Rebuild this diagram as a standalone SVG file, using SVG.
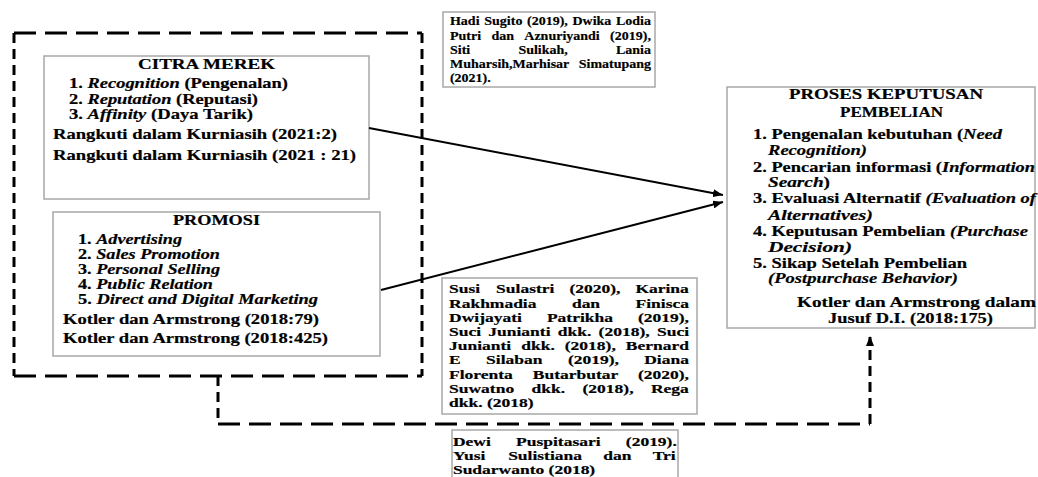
<svg xmlns="http://www.w3.org/2000/svg" width="1038" height="477" viewBox="0 0 1038 477">
<style>
text{font-family:"Liberation Serif","Times New Roman",serif;font-weight:bold;fill:#000;stroke:#000;stroke-width:0.2;}
.f14{font-size:15px;}
.f12{font-size:13.5px;}
.it{font-style:italic;}
.box{fill:#fff;stroke:#a8a8a8;stroke-width:1.5;}
.dh{fill:none;stroke:#000;stroke-width:3;stroke-dasharray:22 9;}
.dv{fill:none;stroke:#000;stroke-width:3;stroke-dasharray:10 6;}
.arr{fill:none;stroke:#000;stroke-width:2;}
</style>
<defs>
<marker id="ah" viewBox="0 0 10 8" refX="10" refY="4" markerWidth="10" markerHeight="8" markerUnits="userSpaceOnUse" orient="auto">
<path d="M0,0 L10,4 L0,8 Z" fill="#000"/>
</marker>
<marker id="ah2" viewBox="0 0 10 8" refX="9" refY="4" markerWidth="10" markerHeight="8" markerUnits="userSpaceOnUse" orient="auto">
<path d="M0,0 L10,4 L0,8 Z" fill="#000"/>
</marker>
</defs>
<rect width="1038" height="477" fill="#fff"/>

<g id="independent-group">
<path class="dh" d="M14,33 H422"/>
<path class="dh" d="M14,376 H422"/>
<path class="dv" d="M14,33 V376"/>
<path class="dv" d="M422,33 V376"/>
</g>

<g id="citra-merek">
<rect class="box" x="44" y="56" width="325" height="143"/>
<text class="f14" x="138" y="69" textLength="137" lengthAdjust="spacingAndGlyphs">CITRA MEREK</text>
<text class="f14" x="69" y="88" textLength="219" lengthAdjust="spacingAndGlyphs">1. <tspan class="it">Recognition</tspan> (Pengenalan)</text>
<text class="f14" x="69" y="104" textLength="189" lengthAdjust="spacingAndGlyphs">2. <tspan class="it">Reputation</tspan> (Reputasi)</text>
<text class="f14" x="69" y="119" textLength="184" lengthAdjust="spacingAndGlyphs">3. <tspan class="it">Affinity</tspan> (Daya Tarik)</text>
<text class="f14" x="53" y="139" textLength="284" lengthAdjust="spacingAndGlyphs">Rangkuti dalam Kurniasih (2021:2)</text>
<text class="f14" x="53" y="160" textLength="303" lengthAdjust="spacingAndGlyphs">Rangkuti dalam Kurniasih (2021 : 21)</text>
</g>

<g id="promosi">
<rect class="box" x="53" y="212" width="327" height="144"/>
<text class="f14" x="173" y="225" textLength="87" lengthAdjust="spacingAndGlyphs">PROMOSI</text>
<text class="f14" x="78" y="244" textLength="104" lengthAdjust="spacingAndGlyphs">1. <tspan class="it">Advertising</tspan></text>
<text class="f14" x="78" y="259" textLength="142" lengthAdjust="spacingAndGlyphs">2. <tspan class="it">Sales Promotion</tspan></text>
<text class="f14" x="78" y="274" textLength="142" lengthAdjust="spacingAndGlyphs">3. <tspan class="it">Personal Selling</tspan></text>
<text class="f14" x="78" y="289" textLength="135" lengthAdjust="spacingAndGlyphs">4. <tspan class="it">Public Relation</tspan></text>
<text class="f14" x="78" y="304" textLength="240" lengthAdjust="spacingAndGlyphs">5. <tspan class="it">Direct and Digital Marketing</tspan></text>
<text class="f14" x="63" y="324" textLength="256" lengthAdjust="spacingAndGlyphs">Kotler dan Armstrong (2018:79)</text>
<text class="f14" x="63" y="343" textLength="265" lengthAdjust="spacingAndGlyphs">Kotler dan Armstrong (2018:425)</text>
</g>

<g id="ref-top">
<rect class="box" x="443" y="12" width="212" height="75"/>
<g transform="scale(1.037,1)">
<text class="f12" y="25.5"><tspan x="433.9">Hadi</tspan><tspan x="467">Sugito</tspan><tspan x="508.2">(2019),</tspan><tspan x="552">Dwika</tspan><tspan x="594">Lodia</tspan></text>
<text class="f12" y="39.7"><tspan x="433.9">Putri</tspan><tspan x="473.9">dan</tspan><tspan x="505.6">Aznuriyandi</tspan><tspan x="588.3">(2019),</tspan></text>
<text class="f12" y="53.9"><tspan x="433.9">Siti</tspan><tspan x="499.9">Sulikah,</tspan><tspan x="594">Lania</tspan></text>
<text class="f12" y="68.1"><tspan x="433.9">Muharsih,Marhisar</tspan><tspan x="558.1">Simatupang</tspan></text>
<text class="f12" y="82.3"><tspan x="433.9">(2021).</tspan></text>
</g>
</g>

<g id="proses-keputusan-pembelian">
<rect class="box" x="727" y="87" width="308" height="241"/>
<text class="f14" x="789" y="99" textLength="194" lengthAdjust="spacingAndGlyphs">PROSES KEPUTUSAN</text>
<text class="f14" x="840" y="117" textLength="103" lengthAdjust="spacingAndGlyphs">PEMBELIAN</text>
<text class="f14" x="753" y="139" textLength="249" lengthAdjust="spacingAndGlyphs">1. Pengenalan kebutuhan (<tspan class="it">Need</tspan></text>
<text class="f14 it" x="768" y="155" textLength="99" lengthAdjust="spacingAndGlyphs">Recognition)</text>
<text class="f14" x="753" y="172" textLength="282" lengthAdjust="spacingAndGlyphs">2. Pencarian informasi (<tspan class="it">Information</tspan></text>
<text class="f14" x="768" y="187" textLength="62" lengthAdjust="spacingAndGlyphs"><tspan class="it">Search</tspan>)</text>
<text class="f14" x="753" y="203" textLength="283" lengthAdjust="spacingAndGlyphs">3. Evaluasi Alternatif <tspan class="it">(Evaluation of</tspan></text>
<text class="f14 it" x="768" y="220" textLength="105" lengthAdjust="spacingAndGlyphs">Alternatives)</text>
<text class="f14" x="753" y="236" textLength="275" lengthAdjust="spacingAndGlyphs">4. Keputusan Pembelian <tspan class="it">(Purchase</tspan></text>
<text class="f14 it" x="768" y="252" textLength="84" lengthAdjust="spacingAndGlyphs">Decision)</text>
<text class="f14" x="753" y="268" textLength="214" lengthAdjust="spacingAndGlyphs">5. Sikap Setelah Pembelian</text>
<text class="f14 it" x="768" y="283" textLength="190" lengthAdjust="spacingAndGlyphs">(Postpurchase Behavior)</text>
<text class="f14" x="797" y="307" textLength="239" lengthAdjust="spacingAndGlyphs">Kotler dan Armstrong dalam</text>
<text class="f14" x="828" y="323" textLength="165" lengthAdjust="spacingAndGlyphs">Jusuf D.I. (2018:175)</text>
</g>

<g id="ref-middle">
<rect class="box" x="442" y="278" width="255" height="136"/>
<g transform="scale(1.296,1)">
<text class="f12" y="293.5"><tspan x="346.5">Susi</tspan><tspan x="382.8">Sulastri</tspan><tspan x="439.4">(2020),</tspan><tspan x="490.3">Karina</tspan></text>
<text class="f12" y="307.7"><tspan x="346.5">Rakhmadia</tspan><tspan x="441.3">dan</tspan><tspan x="490.4">Finisca</tspan></text>
<text class="f12" y="321.9"><tspan x="346.5">Dwijayati</tspan><tspan x="422">Patrikha</tspan><tspan x="492.3">(2019),</tspan></text>
<text class="f12" y="336.1"><tspan x="346.5">Suci</tspan><tspan x="376.8">Junianti</tspan><tspan x="430.4">dkk.</tspan><tspan x="461.9">(2018),</tspan><tspan x="506.9">Suci</tspan></text>
<text class="f12" y="350.3"><tspan x="346.5">Junianti</tspan><tspan x="402.2">dkk.</tspan><tspan x="435.8">(2018),</tspan><tspan x="482.9">Bernard</tspan></text>
<text class="f12" y="364.5"><tspan x="346.5">E</tspan><tspan x="375.1">Silaban</tspan><tspan x="438.2">(2019),</tspan><tspan x="497.1">Diana</tspan></text>
<text class="f12" y="378.7"><tspan x="346.5">Florenta</tspan><tspan x="411.1">Butarbutar</tspan><tspan x="492.3">(2020),</tspan></text>
<text class="f12" y="392.9"><tspan x="346.5">Suwatno</tspan><tspan x="410.2">dkk.</tspan><tspan x="449.5">(2018),</tspan><tspan x="502.3">Rega</tspan></text>
<text class="f12" y="407.1"><tspan x="346.5">dkk. (2018)</tspan></text>
</g>
</g>

<g id="ref-bottom">
<rect class="box" x="452" y="430" width="226" height="60"/>
<g transform="scale(1.296,1)">
<text class="f12" y="446"><tspan x="349.5">Dewi</tspan><tspan x="398.2">Puspitasari</tspan><tspan x="482.9">(2019).</tspan></text>
<text class="f12" y="460"><tspan x="349.5">Yusi</tspan><tspan x="392.1">Sulistiana</tspan><tspan x="465.5">dan</tspan><tspan x="503.6">Tri</tspan></text>
<text class="f12" y="474"><tspan x="349.5">Sudarwanto (2018)</tspan></text>
</g>
</g>

<g id="connectors">
<path class="arr" d="M369,128 L723,195" marker-end="url(#ah)"/>
<path class="arr" d="M381,290 L723,202" marker-end="url(#ah)"/>
<path class="dv" d="M218,376 V424"/>
<path class="dh" d="M218,424 H870"/>
<path class="dv" d="M870,424 V337" marker-end="url(#ah2)"/>
</g>
</svg>
